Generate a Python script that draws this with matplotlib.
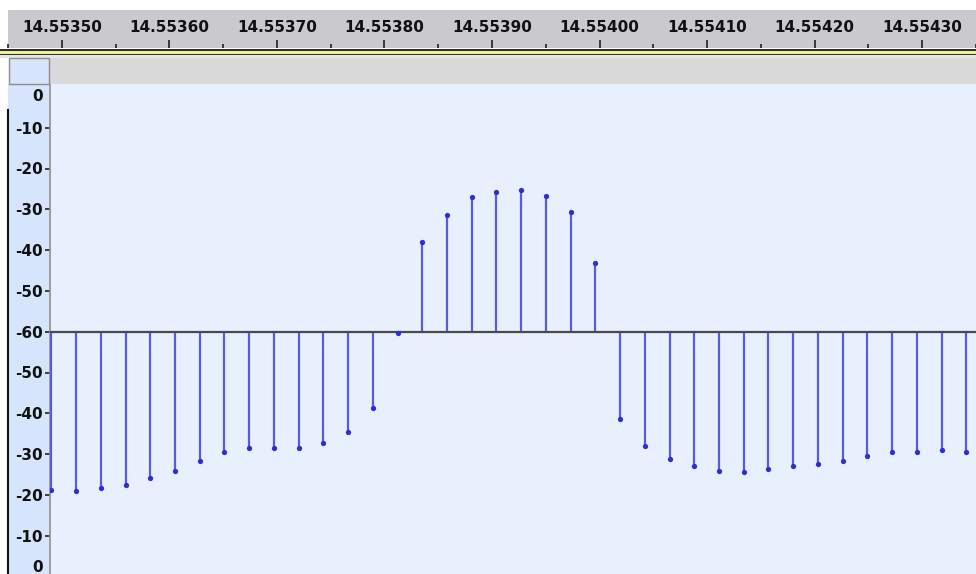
import matplotlib
matplotlib.use("Agg")
import matplotlib.pyplot as plt
import numpy as np
from matplotlib.patches import Rectangle
from matplotlib.lines import Line2D
from matplotlib.transforms import blended_transform_factory

W, H = 976, 574

# samples (44.1 kHz), level in dB and polarity of each sample
rate = 44100
first_sample = 641809
db_vals = [-21.2, -20.9, -21.6, -22.4, -24.1, -25.9, -28.4, -30.5, -31.6, -31.6,
           -31.6, -32.6, -35.5, -41.2, -59.8,
           -38.1, -31.3, -27.1, -25.7, -25.3, -26.7, -30.6, -43.1,
           -38.7, -32.0, -28.7, -27.0, -25.9, -25.5, -26.3, -27.0, -27.6, -28.4,
           -29.5, -30.6, -30.6, -30.9, -30.6]
polarity = [-1] * 15 + [1] * 8 + [-1] * 15
db_range = 60
db_ticks = [-10, -20, -30, -40, -50, -60]
ruler_labels = [14.55350, 14.55360, 14.55370, 14.55380, 14.55390,
                14.55400, 14.55410, 14.55420, 14.55430]

t = (first_sample + np.arange(len(db_vals))) / rate
h = np.array(polarity) * (np.array(db_vals) + db_range)

# pixel <-> time mapping of the view
ref_t, ref_x, px_per_s = 14.5535, 60.0, 1.0905e6
def x2t(x):
    return ref_t + (x - ref_x) / px_per_s

def rect(x0, y0, x1, y1):
    return [x0 / W, 1 - y1 / H, (x1 - x0) / W, (y1 - y0) / H]

fig = plt.figure(figsize=(W / 100, H / 100), dpi=100)
fig.patch.set_facecolor("white")

def box(x0, y0, x1, y1, fc, ec="none", lw=0):
    fig.add_artist(Rectangle((x0 / W, 1 - y1 / H), (x1 - x0) / W, (y1 - y0) / H,
                             transform=fig.transFigure, facecolor=fc,
                             edgecolor=ec, linewidth=lw))

# top ruler
ax_r = fig.add_axes(rect(8, 10, W, 48))
ax_r.set_facecolor("#c9c9ce")
ax_r.set_xlim(x2t(8), x2t(W))
ax_r.set_ylim(0, 1)
for s in ax_r.spines.values():
    s.set_visible(False)
ax_r.set_yticks([])
ax_r.set_xticks(ruler_labels)
ax_r.set_xticks([v + 0.00005 for v in [ruler_labels[0] - 0.0001] + ruler_labels], minor=True)
ax_r.tick_params(axis="x", which="major", direction="in", length=5.5, width=1.2,
                 color="#222222", labelbottom=False)
ax_r.tick_params(axis="x", which="minor", direction="in", length=3, width=1.2,
                 color="#222222")
tr = blended_transform_factory(ax_r.transData, ax_r.transAxes)
for v in ruler_labels:
    ax_r.text(v, 0.54, f"{v:.5f}", transform=tr, ha="center", va="center",
              fontsize=11, fontweight="bold", color="#111111", family="DejaVu Sans")

# separator stripes
box(0, 48.5, W, 50.5, "#2e2e2e")
box(0, 50.5, W, 53.5, "#f0ee96")
box(0, 53.5, W, 55.5, "#2e2e2e")
box(0, 55.5, W, 58, "#e6e6e6")

# grey band and top-left box
box(50, 58, W, 84, "#d9d9d9")
box(8.5, 58.5, 49, 84, "#d6e4fc", "#8c8c8c", 1.0)

# vertical ruler background
ax_l = fig.add_axes(rect(8, 84, 49, H))
ax_l.set_facecolor("#d6e4fc")
ax_l.set_xticks([])
ax_l.set_yticks([])
for s in ax_l.spines.values():
    s.set_visible(False)
fig.add_artist(Line2D([8 / W, 8 / W], [0, 1 - 110 / H], transform=fig.transFigure,
                      color="#111111", linewidth=1.5))

# waveform
ax = fig.add_axes(rect(50, 84, W, H))
ax.set_facecolor("#e8f0fd")
ax.set_xlim(x2t(50), x2t(W))
top_h = (331.7 - 84) / 4.08
bot_h = -(H - 331.7) / 4.08
ax.set_ylim(bot_h, top_h)
for k, s in ax.spines.items():
    s.set_visible(k == "left")
ax.spines["left"].set_color("#8c8c8c")
ax.spines["left"].set_linewidth(1.2)
ax.set_xticks([])

pos = []
labels = []
for d in db_ticks:
    for sg in (1, -1):
        v = sg * (d + db_range)
        if v not in pos:
            pos.append(v)
            labels.append(str(d))
pos += [top_h - 2.7, bot_h + 2.0]
labels += ["0", "0"]
ax.set_yticks(pos)
ax.set_yticklabels(labels)
ax.tick_params(axis="y", direction="out", length=3.5, width=1.2, color="#222222",
               pad=1.5, labelsize=11, labelcolor="#111111")
for tl in ax.get_yticklabels():
    tl.set_fontweight("bold")
for tk in ax.yaxis.get_major_ticks()[-2:]:
    tk.tick1line.set_visible(False)

ax.axhline(0, color="#4a4a4a", linewidth=1.6, zorder=4)
ax.vlines(t, 0, h, color="#5a5adf", linewidth=1.6, zorder=3)
ax.plot(t, h, "o", color="#2e2ed2", markersize=3.8, markeredgewidth=0, zorder=5)

fig.savefig("out.png", dpi=100)
